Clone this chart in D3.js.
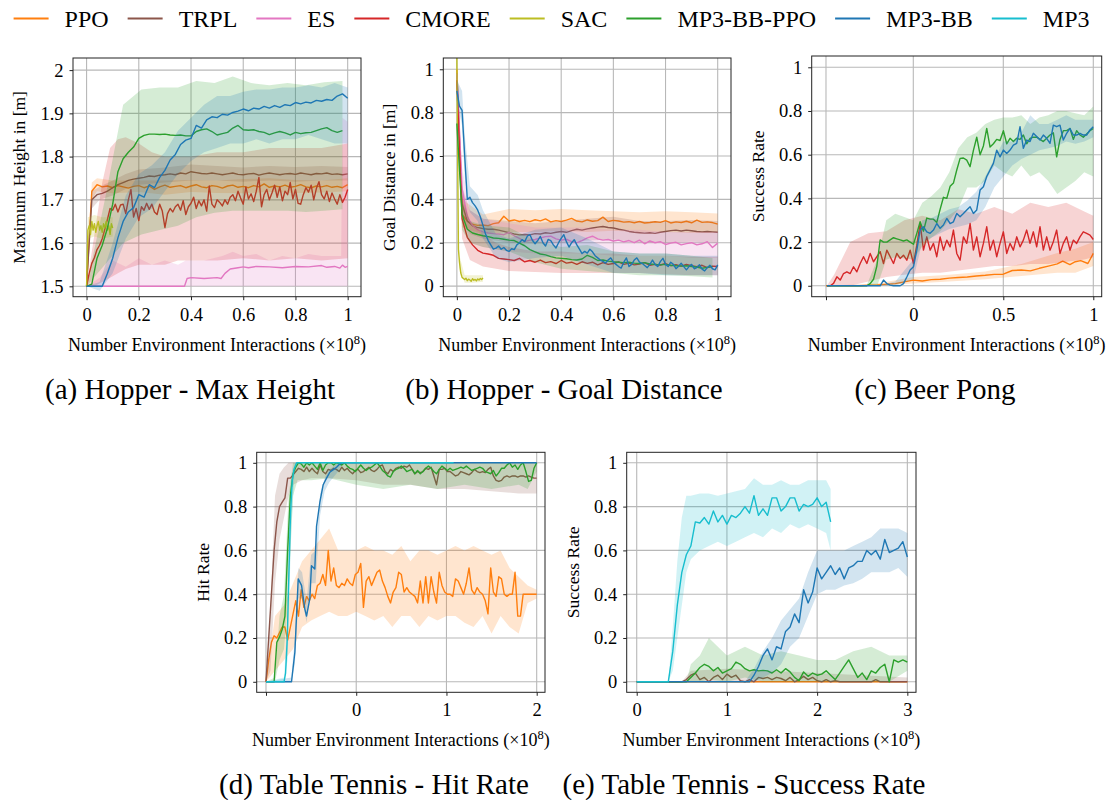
<!DOCTYPE html>
<html><head><meta charset="utf-8">
<script src="https://cdn.jsdelivr.net/npm/d3@7"></script>
<style>body{margin:0;background:#fff}</style>
</head><body>
<script>
// ---------------- legend / series ----------------
const seriesNames = ["PPO","TRPL","ES","CMORE","SAC","MP3-BB-PPO","MP3-BB","MP3"];
const seriesColors = ["#ff7f0e","#8c564b","#e377c2","#d62728","#bcbd22","#2ca02c","#1f77b4","#17becf"];

// ---------------- tick arrays ----------------
const ticksUnit = [0,0.2,0.4,0.6,0.8,1];
const ticksUnitLabels = ["0","0.2","0.4","0.6","0.8","1"];
const ticksA_y = [1.5,1.6,1.7,1.8,1.9,2];
const ticksA_yLabels = ["1.5","1.6","1.7","1.8","1.9","2"];
const ticksC_x = [-0.485,0,0.5,1];
const ticksC_xLabels = ["","0","0.5","1"];
const ticksD_x = [-1,0,1,2];
const ticksD_xLabels = ["","0","1","2"];
const ticksE_x = [0,1,2,3];
const ticksE_xLabels = ["0","1","2","3"];

// ================= (a) Hopper - Max Height =================
const aPPO = [1.50,1.72,1.735,1.73,1.732,1.728,1.733,1.73,1.727,1.731,1.733,1.728,1.732,1.724,1.73,1.734,1.729,1.731,1.733,1.728,1.732,1.735,1.73,1.728,1.733,1.731,1.727,1.732,1.734,1.729,1.731,1.728,1.733,1.73,1.737,1.729,1.732,1.73,1.734,1.729,1.731,1.735,1.73,1.728,1.732,1.73,1.733,1.729,1.731,1.728,1.735];
const aPPO_bx = [0,0.02,0.04,0.1,0.2,0.3,0.4,0.5,0.6,0.7,0.8,0.9,1.0];
const aPPO_lo = [1.5,1.70,1.72,1.715,1.718,1.712,1.718,1.716,1.715,1.718,1.716,1.717,1.72];
const aPPO_hi = [1.5,1.74,1.75,1.745,1.745,1.745,1.746,1.745,1.748,1.75,1.746,1.745,1.75];

const aTRPL = [1.50,1.70,1.712,1.715,1.72,1.728,1.735,1.74,1.745,1.748,1.75,1.752,1.755,1.754,1.757,1.758,1.76,1.758,1.762,1.76,1.765,1.763,1.761,1.76,1.762,1.76,1.758,1.76,1.762,1.759,1.758,1.76,1.761,1.757,1.76,1.762,1.76,1.758,1.76,1.761,1.759,1.762,1.76,1.758,1.761,1.76,1.762,1.759,1.76,1.758,1.76];
const aTRPL_bx = [0,0.02,0.05,0.1,0.15,0.2,0.3,0.4,0.5,0.6,0.7,0.8,0.9,1.0];
const aTRPL_lo = [1.5,1.68,1.70,1.71,1.725,1.735,1.74,1.745,1.745,1.742,1.745,1.742,1.745,1.745];
const aTRPL_hi = [1.5,1.72,1.73,1.745,1.76,1.77,1.775,1.782,1.778,1.775,1.778,1.776,1.778,1.776];

const aES_x = [0,0.375,0.385,0.40,0.45,0.5,0.515,0.53,0.55,0.58,0.6,0.62,0.65,0.7,0.75,0.8,0.85,0.9,0.92,0.95,0.97,0.98,0.99,1.0];
const aES = [1.5,1.5,1.518,1.52,1.518,1.52,1.518,1.53,1.54,1.543,1.545,1.543,1.546,1.545,1.543,1.546,1.545,1.548,1.544,1.546,1.542,1.549,1.544,1.546];
const aES_bx = [0,0.05,0.1,0.15,0.2,0.25,0.3,0.35,0.38,0.45,0.52,0.56,0.6,0.65,0.7,0.75,0.8,0.85,0.9,0.95,0.975,0.98,1.0];
const aES_lo = [1.5,1.5,1.5,1.5,1.5,1.5,1.5,1.5,1.5,1.5,1.5,1.5,1.5,1.5,1.5,1.5,1.5,1.5,1.5,1.5,1.5,1.5,1.5];
const aES_hi = [1.5,1.52,1.56,1.545,1.565,1.55,1.56,1.55,1.56,1.56,1.57,1.58,1.57,1.575,1.56,1.57,1.565,1.575,1.57,1.57,1.57,1.89,1.88];

const aCMORE = [1.500,1.530,1.553,1.566,1.585,1.595,1.610,1.632,1.655,1.680,1.676,1.690,1.672,1.688,1.690,1.668,1.700,1.724,1.660,1.680,1.652,1.684,1.676,1.692,1.678,1.690,1.672,1.666,1.690,1.674,1.636,1.668,1.680,1.672,1.684,1.690,1.676,1.698,1.666,1.684,1.692,1.706,1.680,1.698,1.686,1.700,1.674,1.732,1.690,1.682,1.700,1.694,1.686,1.700,1.690,1.706,1.712,1.698,1.720,1.704,1.690,1.730,1.702,1.714,1.696,1.720,1.752,1.684,1.712,1.724,1.700,1.716,1.734,1.706,1.730,1.698,1.720,1.712,1.740,1.702,1.724,1.692,1.690,1.712,1.728,1.718,1.734,1.700,1.726,1.742,1.712,1.702,1.720,1.696,1.716,1.702,1.690,1.712,1.694,1.706,1.724];
const aCMORE_bx = [0,0.03,0.06,0.09,0.12,0.15,0.2,0.25,0.3,0.35,0.4,0.5,0.6,0.7,0.8,0.9,1.0];
const aCMORE_lo = [1.5,1.5,1.51,1.52,1.53,1.54,1.55,1.55,1.55,1.56,1.56,1.56,1.565,1.56,1.565,1.56,1.565];
const aCMORE_hi = [1.5,1.62,1.74,1.82,1.84,1.845,1.83,1.81,1.80,1.80,1.80,1.81,1.81,1.82,1.82,1.82,1.83];

const aSAC = [1.5,1.63,1.64,1.62,1.65,1.63,1.645,1.625,1.64,1.65,1.63,1.64,1.625,1.645,1.635,1.65,1.63,1.64,1.62,1.645,1.635];
const aSAC_bx = [0,0.005,0.03,0.06,0.1];
const aSAC_lo = [1.5,1.61,1.615,1.61,1.615];
const aSAC_hi = [1.5,1.66,1.665,1.66,1.66];

const aBBPPO = [1.5,1.505,1.565,1.595,1.635,1.69,1.765,1.795,1.81,1.822,1.842,1.849,1.852,1.852,1.851,1.852,1.85,1.849,1.85,1.848,1.848,1.858,1.862,1.864,1.858,1.85,1.853,1.856,1.866,1.872,1.862,1.861,1.862,1.858,1.856,1.851,1.855,1.858,1.855,1.85,1.856,1.853,1.855,1.856,1.86,1.864,1.867,1.86,1.856,1.86];
const aBBPPO_lo = [1.5,1.55,1.60,1.62,1.63,1.64,1.66,1.67,1.675,1.675,1.675,1.675,1.672,1.675,1.678];
const aBBPPO_hi = [1.5,1.70,1.92,1.955,1.96,1.96,1.975,1.97,1.985,1.97,1.965,1.97,1.965,1.972,1.975];

const aBB = [1.500,1.500,1.500,1.500,1.530,1.565,1.612,1.650,1.672,1.682,1.712,1.706,1.735,1.728,1.752,1.768,1.792,1.805,1.828,1.838,1.842,1.872,1.866,1.885,1.892,1.890,1.898,1.896,1.902,1.905,1.910,1.906,1.912,1.910,1.916,1.912,1.918,1.914,1.920,1.918,1.925,1.922,1.926,1.924,1.930,1.928,1.932,1.930,1.940,1.945,1.935];
const aBB_lo = [1.5,1.49,1.53,1.61,1.66,1.68,1.72,1.76,1.79,1.81,1.82,1.83,1.83,1.84,1.83,1.84,1.84,1.85,1.84,1.83,1.83];
const aBB_hi = [1.5,1.51,1.60,1.71,1.76,1.78,1.81,1.86,1.89,1.92,1.94,1.94,1.95,1.955,1.955,1.96,1.96,1.965,1.96,1.97,1.96];

// ================= (b) Hopper - Goal Distance =================
const bPPO = [1.00,0.33,0.30,0.285,0.28,0.282,0.279,0.288,0.292,0.322,0.30,0.305,0.298,0.303,0.297,0.306,0.301,0.31,0.296,0.302,0.298,0.304,0.312,0.30,0.296,0.305,0.299,0.302,0.318,0.298,0.303,0.30,0.295,0.297,0.292,0.298,0.291,0.293,0.297,0.294,0.302,0.291,0.296,0.293,0.299,0.292,0.304,0.294,0.296,0.293,0.286];
const bPPO_bx = [0,0.02,0.1,0.2,0.3,0.4,0.5,0.6,0.7,0.8,0.9,1.0];
const bPPO_lo = [1.0,0.27,0.24,0.25,0.25,0.255,0.25,0.255,0.25,0.25,0.245,0.245];
const bPPO_hi = [1.0,0.40,0.33,0.355,0.35,0.355,0.35,0.345,0.34,0.345,0.34,0.335];

const bTRPL = [0.98,0.38,0.30,0.278,0.27,0.265,0.262,0.262,0.258,0.252,0.246,0.24,0.236,0.238,0.236,0.242,0.24,0.246,0.243,0.248,0.252,0.248,0.256,0.262,0.258,0.264,0.268,0.272,0.275,0.27,0.268,0.262,0.258,0.252,0.248,0.246,0.244,0.246,0.243,0.248,0.252,0.256,0.258,0.254,0.258,0.255,0.252,0.25,0.252,0.25,0.248];
const bTRPL_bx = [0,0.02,0.05,0.1,0.2,0.3,0.4,0.5,0.6,0.7,0.8,0.9,1.0];
const bTRPL_lo = [0.98,0.3,0.24,0.22,0.2,0.195,0.2,0.21,0.215,0.2,0.2,0.205,0.2];
const bTRPL_hi = [0.98,0.46,0.35,0.31,0.3,0.29,0.3,0.31,0.32,0.3,0.3,0.305,0.3];

const bES = [0.98,0.45,0.32,0.28,0.26,0.25,0.245,0.242,0.24,0.237,0.248,0.232,0.22,0.205,0.212,0.215,0.222,0.228,0.23,0.218,0.212,0.216,0.205,0.2,0.21,0.222,0.23,0.218,0.212,0.215,0.208,0.212,0.204,0.21,0.2,0.212,0.195,0.208,0.2,0.205,0.192,0.198,0.202,0.19,0.196,0.2,0.19,0.195,0.205,0.178,0.198];
const bES_bx = [0,0.02,0.05,0.1,0.2,0.3,0.4,0.5,0.6,0.7,0.8,0.9,1.0];
const bES_lo = [0.98,0.35,0.2,0.18,0.16,0.15,0.15,0.15,0.14,0.14,0.14,0.13,0.13];
const bES_hi = [0.98,0.55,0.35,0.31,0.29,0.27,0.27,0.27,0.26,0.26,0.25,0.25,0.25];

const bCMORE = [0.95,0.31,0.225,0.19,0.165,0.152,0.148,0.142,0.128,0.125,0.122,0.118,0.128,0.112,0.118,0.11,0.12,0.108,0.113,0.104,0.118,0.106,0.11,0.1,0.112,0.105,0.11,0.098,0.108,0.1,0.104,0.112,0.1,0.106,0.098,0.102,0.108,0.096,0.1,0.097,0.104,0.094,0.099,0.092,0.1,0.094,0.089,0.096,0.085,0.092,0.09];
const bCMORE_bx = [0,0.02,0.05,0.1,0.15,0.2,0.3,0.4,0.5,0.6,0.7,0.8,0.9,1.0];
const bCMORE_lo = [0.95,0.22,0.12,0.09,0.08,0.07,0.065,0.06,0.06,0.06,0.06,0.055,0.05,0.05];
const bCMORE_hi = [0.95,0.42,0.3,0.24,0.2,0.18,0.16,0.16,0.15,0.15,0.14,0.14,0.135,0.135];

const bSAC_x = [0,0.003,0.006,0.01,0.015,0.02,0.025,0.03,0.035,0.04,0.045,0.05,0.055,0.06,0.065,0.07,0.075,0.08,0.085,0.09,0.095,0.1];
const bSAC = [1.06,0.6,0.17,0.11,0.06,0.04,0.035,0.03,0.036,0.025,0.032,0.028,0.022,0.034,0.027,0.031,0.024,0.033,0.028,0.035,0.03,0.038];
const bSAC_bx = [0,0.01,0.03,0.06,0.1];
const bSAC_lo = [1.06,0.08,0.015,0.015,0.02];
const bSAC_hi = [1.06,0.14,0.05,0.05,0.05];

const bBBPPO = [0.75,0.33,0.262,0.245,0.238,0.232,0.228,0.222,0.22,0.216,0.212,0.21,0.198,0.186,0.168,0.158,0.148,0.144,0.136,0.13,0.128,0.126,0.122,0.12,0.125,0.142,0.132,0.118,0.12,0.115,0.112,0.11,0.108,0.11,0.106,0.104,0.108,0.102,0.1,0.098,0.1,0.096,0.094,0.092,0.094,0.09,0.088,0.082,0.086,0.09];
const bBBPPO_bx = [0,0.02,0.05,0.1,0.2,0.3,0.4,0.5,0.6,0.7,0.8,0.9,0.98];
const bBBPPO_lo = [0.75,0.26,0.2,0.18,0.16,0.11,0.08,0.07,0.06,0.05,0.05,0.045,0.04];
const bBBPPO_hi = [0.75,0.4,0.3,0.28,0.27,0.21,0.18,0.19,0.16,0.15,0.15,0.14,0.13];

const bBB = [0.90,0.83,0.81,0.60,0.40,0.41,0.385,0.37,0.35,0.32,0.28,0.24,0.21,0.19,0.17,0.175,0.185,0.17,0.178,0.165,0.16,0.172,0.168,0.19,0.2,0.214,0.205,0.23,0.237,0.21,0.195,0.21,0.229,0.2,0.185,0.215,0.21,0.19,0.176,0.2,0.22,0.237,0.205,0.18,0.2,0.214,0.19,0.17,0.15,0.16,0.152,0.17,0.158,0.14,0.13,0.12,0.114,0.106,0.12,0.13,0.11,0.1,0.09,0.083,0.11,0.13,0.09,0.1,0.12,0.13,0.11,0.105,0.095,0.085,0.1,0.12,0.1,0.09,0.113,0.128,0.1,0.09,0.11,0.1,0.08,0.092,0.105,0.09,0.075,0.09,0.1,0.08,0.085,0.098,0.078,0.07,0.085,0.096,0.08,0.075,0.098];
const bBB_bx = [0,0.02,0.03,0.05,0.08,0.1,0.15,0.2,0.3,0.4,0.5,0.6,0.7,0.8,0.9,1.0];
const bBB_lo = [0.85,0.74,0.5,0.34,0.3,0.22,0.13,0.11,0.13,0.14,0.1,0.06,0.06,0.05,0.05,0.05];
const bBB_hi = [0.95,0.9,0.7,0.46,0.42,0.35,0.24,0.22,0.26,0.27,0.22,0.16,0.15,0.15,0.14,0.14];

// ================= (c) Beer Pong =================
const cPPO_x = [-0.485,-0.3,-0.2,-0.1,0,0.05,0.1,0.15,0.2,0.25,0.3,0.35,0.4,0.45,0.5,0.55,0.6,0.65,0.7,0.75,0.8,0.83,0.87,0.9,0.93,0.97,1.0];
const cPPO = [0,0,0.004,0.01,0.026,0.022,0.028,0.03,0.035,0.038,0.04,0.045,0.048,0.052,0.053,0.07,0.072,0.068,0.08,0.09,0.1,0.113,0.097,0.11,0.115,0.102,0.148];
const cPPO_bx = [-0.485,-0.2,0,0.2,0.4,0.6,0.8,0.9,1.0];
const cPPO_lo = [0,0,0.01,0.02,0.03,0.045,0.06,0.06,0.09];
const cPPO_hi = [0,0.01,0.04,0.05,0.065,0.1,0.15,0.17,0.2];

const cCMORE = [0,0,0.011,0.041,0.026,0.056,0.064,0.056,0.087,0.064,0.102,0.133,0.102,0.148,0.110,0.133,0.156,0.102,0.163,0.133,0.102,0.148,0.125,0.140,0.117,0.163,0.102,0.186,0.285,0.163,0.224,0.163,0.194,0.133,0.224,0.163,0.209,0.178,0.255,0.148,0.117,0.224,0.194,0.285,0.163,0.224,0.133,0.194,0.270,0.163,0.209,0.133,0.194,0.247,0.148,0.194,0.163,0.224,0.178,0.209,0.255,0.194,0.247,0.178,0.270,0.163,0.224,0.163,0.202,0.255,0.148,0.194,0.224,0.163,0.209,0.194,0.224,0.247,0.240,0.232,0.212];
const cCMORE_bx = [-0.48,-0.44,-0.35,-0.25,-0.15,-0.05,0.05,0.15,0.25,0.35,0.45,0.55,0.65,0.75,0.85,0.95,1.0];
const cCMORE_lo = [0,0,0,0.02,0.04,0.05,0.06,0.06,0.07,0.08,0.09,0.09,0.1,0.1,0.11,0.12,0.13];
const cCMORE_hi = [0,0.05,0.2,0.24,0.25,0.3,0.32,0.3,0.35,0.33,0.36,0.33,0.38,0.36,0.38,0.34,0.32];

const cBBPPO = [0,0,0,0,0,0,0,0,0,0,0,0,0,0.01,0.03,0.09,0.21,0.2,0.2,0.21,0.22,0.215,0.21,0.205,0.21,0.2,0.19,0.24,0.293,0.25,0.31,0.305,0.305,0.29,0.35,0.405,0.4,0.455,0.47,0.53,0.583,0.585,0.575,0.545,0.62,0.68,0.6,0.64,0.72,0.635,0.65,0.67,0.665,0.71,0.65,0.675,0.66,0.675,0.67,0.69,0.65,0.675,0.68,0.68,0.67,0.66,0.675,0.69,0.70,0.59,0.67,0.71,0.71,0.72,0.67,0.71,0.69,0.68,0.695,0.71,0.72];
const cBBPPO_bx = [-0.48,-0.26,-0.2,-0.15,-0.1,0,0.05,0.1,0.15,0.2,0.25,0.3,0.35,0.4,0.45,0.5,0.55,0.6,0.65,0.7,0.75,0.8,0.85,0.9,0.95,1.0];
const cBBPPO_lo = [0,0,0,0.12,0.13,0.12,0.18,0.22,0.25,0.3,0.35,0.45,0.45,0.48,0.55,0.52,0.5,0.55,0.5,0.52,0.48,0.42,0.45,0.48,0.52,0.5];
const cBBPPO_hi = [0,0,0.12,0.3,0.33,0.3,0.38,0.41,0.45,0.52,0.63,0.68,0.7,0.74,0.76,0.77,0.77,0.78,0.74,0.77,0.78,0.8,0.8,0.79,0.78,0.82];

const cBB = [0,0,0,0,0,0,0,0,0,0,0,0,0,0,0,0,0,0.026,0.01,0.003,0,0,0,0.01,0.04,0.072,0.087,0.163,0.255,0.27,0.247,0.24,0.255,0.285,0.263,0.278,0.308,0.285,0.293,0.331,0.316,0.331,0.347,0.362,0.331,0.347,0.438,0.453,0.5,0.53,0.56,0.621,0.59,0.621,0.606,0.621,0.644,0.652,0.728,0.629,0.667,0.66,0.698,0.683,0.667,0.69,0.675,0.652,0.735,0.728,0.735,0.667,0.698,0.72,0.69,0.69,0.698,0.69,0.69,0.713,0.728];
const cBB_bx = [-0.48,-0.2,-0.1,0,0.05,0.1,0.15,0.2,0.25,0.3,0.35,0.4,0.45,0.5,0.55,0.6,0.65,0.7,0.75,0.8,0.85,0.9,0.95,1.0];
const cBB_lo = [0,0,0,0.03,0.2,0.22,0.24,0.26,0.27,0.28,0.3,0.36,0.45,0.5,0.55,0.58,0.6,0.62,0.63,0.64,0.66,0.65,0.66,0.68];
const cBB_hi = [0,0,0.02,0.12,0.3,0.31,0.33,0.35,0.36,0.39,0.43,0.5,0.58,0.66,0.66,0.7,0.78,0.74,0.74,0.76,0.78,0.76,0.76,0.76];

// ================= (d) Table Tennis - Hit Rate =================
const dPPO = [0,0.1,0.18,0.21,0.2,0.225,0.25,0.25,0.19,0.25,0.31,0.37,0.3,0.42,0.34,0.39,0.37,0.4,0.38,0.44,0.45,0.49,0.44,0.6,0.46,0.52,0.44,0.43,0.45,0.44,0.47,0.45,0.44,0.49,0.5,0.54,0.34,0.46,0.48,0.44,0.47,0.5,0.51,0.46,0.43,0.39,0.36,0.41,0.43,0.5,0.49,0.41,0.43,0.41,0.4,0.39,0.36,0.46,0.36,0.48,0.36,0.48,0.41,0.36,0.5,0.44,0.41,0.4,0.4,0.39,0.47,0.46,0.43,0.4,0.45,0.52,0.42,0.4,0.43,0.41,0.4,0.37,0.31,0.52,0.41,0.39,0.48,0.47,0.4,0.39,0.4,0.4,0.5,0.3,0.3,0.4,0.4,0.4,0.4,0.4,0.4];
const dPPO_lo = [0,0.05,0.1,0.15,0.25,0.28,0.3,0.32,0.3,0.3,0.32,0.3,0.28,0.3,0.25,0.3,0.3,0.25,0.3,0.28,0.3,0.3,0.27,0.25,0.3,0.22,0.3,0.25,0.22,0.36,0.38];
const dPPO_hi = [0,0.3,0.35,0.45,0.55,0.6,0.65,0.7,0.6,0.6,0.6,0.62,0.6,0.6,0.58,0.62,0.55,0.6,0.6,0.58,0.6,0.62,0.6,0.62,0.6,0.58,0.6,0.52,0.48,0.44,0.42];

const dTRPL = [0,0.2,0.4,0.6,0.73,0.8,0.82,0.84,0.93,0.93,0.945,0.96,0.975,0.97,0.96,0.98,0.96,0.975,0.96,0.95,0.99,0.96,0.95,0.97,0.965,0.975,0.97,0.96,0.98,0.965,0.975,0.96,0.95,0.965,0.97,0.955,0.96,0.97,0.98,0.965,0.96,0.97,0.985,0.99,0.96,0.95,0.97,0.96,0.975,0.98,0.975,0.985,0.98,0.99,0.97,0.95,0.96,0.955,0.96,0.975,0.97,0.98,0.94,0.9,0.97,0.97,0.975,0.96,0.96,0.95,0.94,0.945,0.96,0.955,0.95,0.945,0.955,0.97,0.96,0.955,0.96,0.955,0.97,0.98,0.94,0.92,0.915,0.92,0.935,0.94,0.935,0.94,0.94,0.935,0.94,0.94,0.935,0.94,0.935,0.93,0.93];
const dTRPL_bx = [-1,-0.95,-0.9,-0.85,-0.8,-0.75,-0.7,-0.6,-0.5,-0.3,0,0.3,0.6,0.9,1.2,1.5,1.8,2.0];
const dTRPL_lo = [0,0.05,0.45,0.65,0.75,0.85,0.9,0.92,0.93,0.93,0.92,0.9,0.9,0.88,0.88,0.87,0.86,0.86];
const dTRPL_hi = [0,0.35,0.85,0.95,0.98,1.0,1.0,1.0,1.0,1.0,1.0,1.0,1.0,1.0,1.0,1.0,1.0,1.0];

const dBBPPO = [0,0,0,0,0.18,0.205,0.24,0.3,0.6,0.85,0.95,0.98,1.0,0.995,0.98,1.0,0.99,1.0,0.985,0.97,1.0,0.965,0.99,1.0,1.0,0.99,1.0,0.995,0.99,1.0,0.985,0.975,0.97,0.96,0.975,0.99,0.975,0.965,0.975,0.98,0.99,1.0,0.985,0.965,0.955,0.94,0.935,0.96,0.97,0.975,0.985,0.975,0.96,0.965,0.97,0.95,0.965,0.95,0.96,0.975,0.985,0.975,0.96,0.95,0.97,0.985,0.975,0.965,0.975,0.965,0.97,0.975,0.98,0.975,0.985,0.975,0.965,0.97,0.975,0.98,0.975,0.96,0.955,0.95,0.965,0.94,0.955,0.975,0.975,0.99,1.0,0.98,0.99,0.97,0.99,1.0,0.96,0.915,0.92,0.975,1.0];
const dBBPPO_bx = [-1,-0.9,-0.85,-0.8,-0.75,-0.7,-0.65,-0.5,-0.3,0,0.3,0.6,0.9,1.2,1.5,1.8,1.9,2.0];
const dBBPPO_lo = [0,0,0.1,0.15,0.4,0.85,0.92,0.92,0.93,0.9,0.88,0.9,0.88,0.9,0.88,0.9,0.88,0.96];
const dBBPPO_hi = [0,0.02,0.3,0.4,0.85,1.0,1.0,1.0,1.0,1.0,1.0,1.0,1.0,1.0,1.0,1.0,1.0,1.0];

const dBB_x = [-1,-0.717,-0.68,-0.643,-0.606,-0.57,-0.551,-0.514,-0.496,-0.459,-0.44,-0.403,-0.366,-0.329,-0.293,-0.25,-0.218,-0.182,-0.15,2.0];
const dBB = [0,0,0.135,0.47,0.44,0.333,0.3,0.38,0.53,0.515,0.71,0.82,0.9,0.93,0.957,0.97,0.98,0.995,1.0,1.0];
const dBB_bx = [-1,-0.72,-0.68,-0.64,-0.6,-0.55,-0.5,-0.45,-0.4,-0.35,-0.3,-0.2,-0.15,2.0];
const dBB_lo = [0,0,0.08,0.38,0.38,0.27,0.45,0.45,0.76,0.87,0.91,0.96,1.0,1.0];
const dBB_hi = [0,0.02,0.2,0.52,0.5,0.37,0.58,0.6,0.86,0.93,0.97,1.0,1.0,1.0];

const dMP3_x = [-1,-0.8,-0.783,-0.765,-0.746,-0.728,-0.709,-0.69,-0.66,1.08];
const dMP3 = [0,0,0.04,0.19,0.5,0.77,0.92,0.97,1.0,1.0];
const dMP3_bx = [-1,-0.8,-0.76,-0.72,-0.68,-0.66,1.08];
const dMP3_lo = [0,0,0.1,0.7,0.97,1,1];
const dMP3_hi = [0,0.02,0.3,0.85,1,1,1];

// ================= (e) Table Tennis - Success Rate =================
const ePPO_x = [0,3];
const ePPO = [0,0];

const eTRPL = [0,0,0,0,0,0,0,0,0,0,0,0.01,0.03,0.04,0.01,0.02,0.0,0.02,0.03,0.01,0.035,0.02,0.03,0.005,0.0,0.01,0.0,0.02,0.015,0.02,0.01,0.02,0.015,0.005,0.02,0.0,0.01,0.025,0.01,0.02,0.005,0.0,0.01,0.0,0.005,0,0,0,0,0,0,0,0,0.01,0,0,0,0,0,0,0];
const eTRPL_bx = [0,0.5,0.6,1.0,1.5,2.0,2.5,3.0];
const eTRPL_lo = [0,0,0,0,0,0,0,0];
const eTRPL_hi = [0,0,0.05,0.06,0.05,0.04,0.03,0.02];

const eBBPPO = [0,0,0,0,0,0,0,0,0,0,0,0,0.02,0.04,0.065,0.08,0.07,0.05,0.065,0.04,0.05,0.06,0.09,0.08,0.06,0.05,0.055,0.05,0.052,0.05,0.04,0.055,0.04,0.06,0.045,0.02,0.005,0.045,0.025,0.04,0.03,0.035,0.05,0.03,0.01,0.04,0.07,0.1,0.06,0.02,0.04,0.01,0.05,0.04,0.065,0.08,0.0,0.1,0.09,0.1,0.09];
const eBBPPO_bx = [0,0.55,0.6,0.7,0.8,1.0,1.2,1.4,1.6,1.8,2.0,2.2,2.4,2.6,2.8,3.0];
const eBBPPO_lo = [0,0,0,0,0.01,0,0.02,0,0,0,0,0,0,0,0,0.05];
const eBBPPO_hi = [0,0,0.08,0.12,0.2,0.12,0.16,0.12,0.14,0.12,0.1,0.1,0.14,0.16,0.12,0.12];

const eBB = [0,0,0,0,0,0,0,0,0,0,0,0,0,0,0,0,0,0,0,0,0,0,0,0,0,0,0.03,0.07,0.12,0.15,0.1,0.16,0.15,0.23,0.25,0.31,0.27,0.42,0.36,0.41,0.52,0.47,0.5,0.53,0.49,0.52,0.47,0.52,0.53,0.55,0.55,0.6,0.58,0.6,0.56,0.65,0.59,0.6,0.61,0.64,0.57];
const eBB_bx = [0,1.2,1.3,1.4,1.5,1.6,1.7,1.8,1.9,2.0,2.1,2.2,2.3,2.4,2.5,2.6,2.7,2.8,2.9,3.0];
const eBB_lo = [0,0,0,0.02,0.04,0.08,0.16,0.2,0.3,0.4,0.42,0.42,0.44,0.45,0.47,0.5,0.5,0.5,0.52,0.48];
const eBB_hi = [0,0,0.06,0.14,0.2,0.28,0.33,0.38,0.5,0.6,0.6,0.6,0.6,0.62,0.64,0.66,0.7,0.7,0.7,0.68];

const eMP3 = [0,0,0,0,0,0,0,0.0,0.14,0.35,0.5,0.58,0.62,0.73,0.725,0.75,0.72,0.78,0.73,0.76,0.72,0.76,0.75,0.77,0.80,0.77,0.85,0.76,0.79,0.76,0.84,0.84,0.78,0.80,0.84,0.84,0.78,0.81,0.80,0.81,0.84,0.80,0.82,0.73];
const eMP3_bx = [0,0.35,0.4,0.45,0.5,0.55,0.6,0.7,0.8,0.9,1.0,1.1,1.2,1.3,1.4,1.5,1.6,1.7,1.8,1.9,2.0,2.1,2.15];
const eMP3_lo = [0,0,0.05,0.2,0.35,0.5,0.56,0.6,0.62,0.64,0.62,0.64,0.66,0.68,0.66,0.7,0.68,0.72,0.7,0.72,0.7,0.68,0.6];
const eMP3_hi = [0,0,0.25,0.55,0.75,0.85,0.85,0.86,0.86,0.85,0.86,0.87,0.88,0.93,0.9,0.9,0.92,0.9,0.9,0.92,0.92,0.92,0.88];

// ---------------- helpers ----------------
function lin(a, b, n) { return d3.range(n).map(i => a + (b - a) * i / (n - 1)); }
function S(name, xs, ys, bx, lo, hi) {
  return { name, pts: xs.map((x, i) => [x, ys[i]]), band: bx ? bx.map((x, i) => [x, lo[i], hi[i]]) : null };
}
const FONT = "'Liberation Serif','Times New Roman',serif";

const panels = [
  { id: "a", box: [73, 58, 361, 296.7], xd: [-0.052, 1.051], yd: [1.476, 2.028],
    xt: ticksUnit, xtl: ticksUnitLabels, yt: ticksA_y, ytl: ticksA_yLabels,
    ylabel: "Maximum Height in [m]", caption: "(a) Hopper - Max Height", capX: 190, capY: 399,
    series: [
      S("PPO", lin(0, 1, aPPO.length), aPPO, aPPO_bx, aPPO_lo, aPPO_hi),
      S("TRPL", lin(0, 1, aTRPL.length), aTRPL, aTRPL_bx, aTRPL_lo, aTRPL_hi),
      S("ES", aES_x, aES, aES_bx, aES_lo, aES_hi),
      S("CMORE", lin(0, 1, aCMORE.length), aCMORE, aCMORE_bx, aCMORE_lo, aCMORE_hi),
      S("SAC", lin(0, 0.1, aSAC.length), aSAC, aSAC_bx, aSAC_lo, aSAC_hi),
      S("MP3-BB-PPO", lin(0, 0.98, aBBPPO.length), aBBPPO, lin(0, 0.98, aBBPPO_lo.length), aBBPPO_lo, aBBPPO_hi),
      S("MP3-BB", lin(0, 1, aBB.length), aBB, lin(0, 1, aBB_lo.length), aBB_lo, aBB_hi)
    ] },
  { id: "b", box: [443.3, 58, 731, 296.7], xd: [-0.052, 1.051], yd: [-0.049, 1.052],
    xt: ticksUnit, xtl: ticksUnitLabels, yt: ticksUnit, ytl: ticksUnitLabels,
    ylabel: "Goal Distance in [m]", caption: "(b) Hopper - Goal Distance", capX: 564, capY: 399,
    series: [
      S("PPO", lin(0, 1, bPPO.length), bPPO, bPPO_bx, bPPO_lo, bPPO_hi),
      S("TRPL", lin(0, 1, bTRPL.length), bTRPL, bTRPL_bx, bTRPL_lo, bTRPL_hi),
      S("ES", lin(0, 1, bES.length), bES, bES_bx, bES_lo, bES_hi),
      S("CMORE", lin(0, 1, bCMORE.length), bCMORE, bCMORE_bx, bCMORE_lo, bCMORE_hi),
      S("SAC", bSAC_x, bSAC, bSAC_bx, bSAC_lo, bSAC_hi),
      S("MP3-BB-PPO", lin(0, 0.98, bBBPPO.length), bBBPPO, bBBPPO_bx, bBBPPO_lo, bBBPPO_hi),
      S("MP3-BB", lin(0, 1, bBB.length), bBB, bBB_bx, bBB_lo, bBB_hi)
    ] },
  { id: "c", box: [811.7, 56, 1101.7, 296.7], xd: [-0.5644, 1.0467], yd: [-0.05, 1.0517],
    xt: ticksC_x, xtl: ticksC_xLabels, yt: ticksUnit, ytl: ticksUnitLabels,
    ylabel: "Success Rate", caption: "(c) Beer Pong", capX: 935, capY: 399,
    series: [
      S("PPO", cPPO_x, cPPO, cPPO_bx, cPPO_lo, cPPO_hi),
      S("CMORE", lin(-0.48, 1, cCMORE.length), cCMORE, cCMORE_bx, cCMORE_lo, cCMORE_hi),
      S("MP3-BB-PPO", lin(-0.48, 1, cBBPPO.length), cBBPPO, cBBPPO_bx, cBBPPO_lo, cBBPPO_hi),
      S("MP3-BB", lin(-0.48, 1, cBB.length), cBB, cBB_bx, cBB_lo, cBB_hi)
    ] },
  { id: "d", box: [256.7, 452.3, 545, 692.3], xd: [-1.103, 2.092], yd: [-0.048, 1.048],
    xt: ticksD_x, xtl: ticksD_xLabels, yt: ticksUnit, ytl: ticksUnitLabels,
    ylabel: "Hit Rate", caption: "(d) Table Tennis - Hit Rate", capX: 374, capY: 794,
    series: [
      S("PPO", lin(-1, 2, dPPO.length), dPPO, lin(-1, 2, dPPO_lo.length), dPPO_lo, dPPO_hi),
      S("TRPL", lin(-1, 2, dTRPL.length), dTRPL, dTRPL_bx, dTRPL_lo, dTRPL_hi),
      S("MP3-BB-PPO", lin(-1, 2, dBBPPO.length), dBBPPO, dBBPPO_bx, dBBPPO_lo, dBBPPO_hi),
      S("MP3-BB", dBB_x, dBB, dBB_bx, dBB_lo, dBB_hi),
      S("MP3", dMP3_x, dMP3, dMP3_bx, dMP3_lo, dMP3_hi)
    ] },
  { id: "e", box: [626.7, 452.3, 916, 692.3], xd: [-0.111, 3.096], yd: [-0.048, 1.048],
    xt: ticksE_x, xtl: ticksE_xLabels, yt: ticksUnit, ytl: ticksUnitLabels,
    ylabel: "Success Rate", caption: "(e) Table Tennis - Success Rate", capX: 744, capY: 794,
    series: [
      S("PPO", ePPO_x, ePPO, null),
      S("TRPL", lin(0, 3, eTRPL.length), eTRPL, eTRPL_bx, eTRPL_lo, eTRPL_hi),
      S("MP3-BB-PPO", lin(0, 3, eBBPPO.length), eBBPPO, eBBPPO_bx, eBBPPO_lo, eBBPPO_hi),
      S("MP3-BB", lin(0, 3, eBB.length), eBB, eBB_bx, eBB_lo, eBB_hi),
      S("MP3", lin(0, 2.15, eMP3.length), eMP3, eMP3_bx, eMP3_lo, eMP3_hi)
    ] }
];

const color = d3.scaleOrdinal().domain(seriesNames).range(seriesColors);
const svg = d3.select("body").append("svg").attr("width", 1111).attr("height", 800)
  .style("background", "#fff").style("font-family", FONT);

panels.forEach(p => {
  const [L, T, R, B] = p.box;
  const x = d3.scaleLinear().domain(p.xd).range([L, R]);
  const y = d3.scaleLinear().domain(p.yd).range([B, T]);
  const g = svg.append("g");
  g.append("clipPath").attr("id", "clip" + p.id).append("rect")
    .attr("x", L).attr("y", T).attr("width", R - L).attr("height", B - T);
  // grid
  g.append("g").selectAll("line").data(p.xt).join("line")
    .attr("x1", d => x(d)).attr("x2", d => x(d)).attr("y1", T).attr("y2", B)
    .attr("stroke", "#b8b8b8").attr("stroke-width", 1.1);
  g.append("g").selectAll("line").data(p.yt).join("line")
    .attr("y1", d => y(d)).attr("y2", d => y(d)).attr("x1", L).attr("x2", R)
    .attr("stroke", "#b8b8b8").attr("stroke-width", 1.1);
  // series
  const plot = g.append("g").attr("clip-path", `url(#clip${p.id})`);
  const line = d3.line().x(d => x(d[0])).y(d => y(d[1]));
  const area = d3.area().x(d => x(d[0])).y0(d => y(d[1])).y1(d => y(d[2]));
  p.series.forEach(s => {
    plot.append("path").attr("d", line(s.pts)).attr("fill", "none")
      .attr("stroke", color(s.name)).attr("stroke-width", 1.4).attr("stroke-linejoin", "round");
    if (s.band) plot.append("path").attr("d", area(s.band))
      .attr("fill", color(s.name)).attr("fill-opacity", 0.2).attr("stroke", "none");
  });
  // frame
  g.append("rect").attr("x", L).attr("y", T).attr("width", R - L).attr("height", B - T)
    .attr("fill", "none").attr("stroke", "#222").attr("stroke-width", 1);
  // axes
  const ax = d3.axisBottom(x).tickValues(p.xt).tickFormat((d, i) => p.xtl[i])
    .tickSizeInner(3.5).tickSizeOuter(0).tickPadding(7.5);
  const ay = d3.axisLeft(y).tickValues(p.yt).tickFormat((d, i) => p.ytl[i])
    .tickSizeInner(3.5).tickSizeOuter(0).tickPadding(6);
  const gx = g.append("g").attr("transform", `translate(0,${B})`).call(ax);
  const gy = g.append("g").attr("transform", `translate(${L},0)`).call(ay);
  [gx, gy].forEach(a => {
    a.select(".domain").remove();
    a.selectAll("line").attr("stroke", "#222");
    a.selectAll("text").attr("font-family", FONT).attr("font-size", 18.5).attr("fill", "#000");
  });
  // x label
  const xl = g.append("text").attr("x", (L + R) / 2).attr("y", B + 54)
    .attr("text-anchor", "middle").attr("font-size", 18).attr("fill", "#000");
  xl.append("tspan").text("Number Environment Interactions (\u00d710");
  xl.append("tspan").attr("dy", -7).attr("font-size", 12.5).text("8");
  xl.append("tspan").attr("dy", 7).text(")");
  // y label
  g.append("text").attr("transform", `translate(${L - 54},${(T + B) / 2}) rotate(-90)`)
    .attr("text-anchor", "middle").attr("dy", "0.35em").attr("font-size", 17.5)
    .attr("fill", "#000").text(p.ylabel);
  // caption
  svg.append("text").attr("x", p.capX).attr("y", p.capY).attr("text-anchor", "middle")
    .attr("font-size", 29).attr("fill", "#000").text(p.caption);
});

// legend
const leg = svg.append("g");
let lx = 13.6;
seriesNames.forEach((n, i) => {
  leg.append("line").attr("x1", lx).attr("x2", lx + 35).attr("y1", 18.5).attr("y2", 18.5)
    .attr("stroke", seriesColors[i]).attr("stroke-width", 2);
  const t = leg.append("text").attr("x", lx + 51).attr("y", 26.5).attr("font-size", 24)
    .attr("fill", "#000").text(n);
  lx = lx + 51 + t.node().getComputedTextLength() + 19;
});
</script>
</body></html>
